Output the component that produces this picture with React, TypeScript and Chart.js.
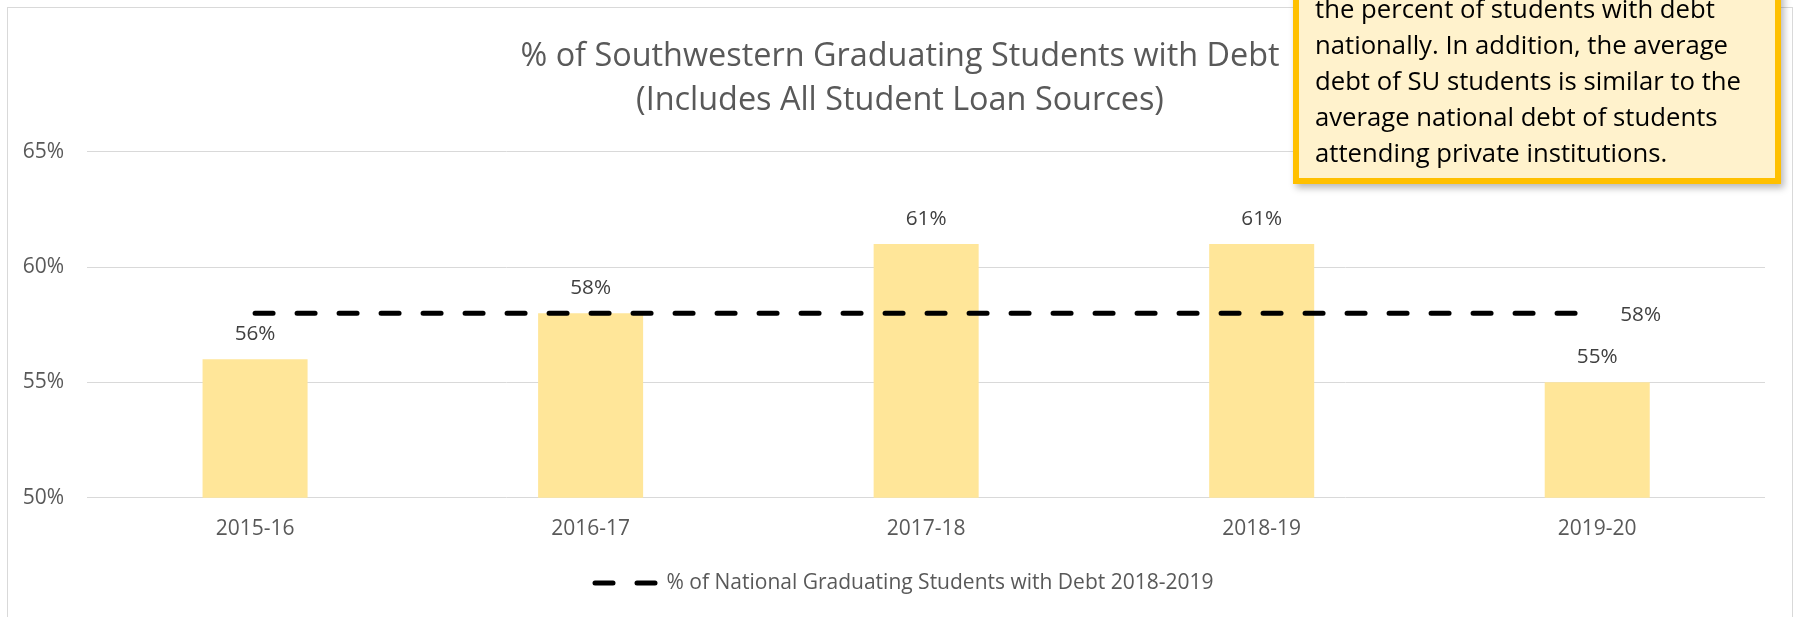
import React, { useEffect, useRef } from "react";
import { Chart, registerables } from "chart.js";

Chart.register(...registerables);

// ---- data ----
const categories = ["2015-16", "2016-17", "2017-18", "2018-19", "2019-20"];
const suDebtPct = [56, 58, 61, 61, 55];
const nationalDebtPct = [58, 58, 58, 58, 58];
const yTickValues = [50, 55, 60, 65];
const titleLines = [
  "% of Southwestern Graduating Students with Debt",
  "(Includes All Student Loan Sources)",
];
const suLabel = "% of Southwestern Graduating Students with Debt";
const nationalLabel = "% of National Graduating Students with Debt 2018-2019";
const noteLines = [
  "the percent of students with debt",
  "nationally. In addition, the average",
  "debt of SU students is similar to the",
  "average national debt of students",
  "attending private institutions.",
];

const FONT = '"Open Sans", "Noto Sans", sans-serif';
const CANVAS_W = 1784;
const CANVAS_H = 640;

const valueLabelPlugin = {
  id: "valueLabels",
  afterDatasetsDraw(chart: any) {
    const ctx = chart.ctx;
    ctx.save();
    ctx.font = `20.7px ${FONT}`;
    ctx.textBaseline = "middle";
    // bar labels
    const barMeta = chart.getDatasetMeta(0);
    ctx.fillStyle = "#404040";
    ctx.textAlign = "center";
    barMeta.data.forEach((el: any, i: number) => {
      const v = chart.data.datasets[0].data[i];
      ctx.fillText(`${v}%`, el.x, el.y - 25);
    });
    // line label on last point
    const lineMeta = chart.getDatasetMeta(1);
    const last = lineMeta.data.length - 1;
    const pt = lineMeta.data[last];
    const lv = chart.data.datasets[1].data[last];
    ctx.textAlign = "left";
    ctx.fillText(`${lv}%`, pt.x + 23, pt.y + 1.5);
    ctx.restore();
  },
};

const legendPlugin = {
  id: "dashLegend",
  afterDraw(chart: any) {
    const ctx = chart.ctx;
    const ds = chart.data.datasets[1];
    ctx.save();
    ctx.font = `21px ${FONT}`;
    const tw = ctx.measureText(ds.label).width;
    const cap = 2.5;
    const sample = 61;
    const gap = 10.5;
    const total = cap + sample + gap + tw;
    const startX = chart.width / 2 + 3 - total / 2;
    const y = 575;
    ctx.beginPath();
    ctx.setLineDash(ds.borderDash);
    ctx.lineCap = "round";
    ctx.lineWidth = ds.borderWidth;
    ctx.strokeStyle = ds.borderColor;
    ctx.moveTo(startX + cap, y);
    ctx.lineTo(startX + cap + sample, y);
    ctx.stroke();
    ctx.setLineDash([]);
    ctx.fillStyle = "#595959";
    ctx.textAlign = "left";
    ctx.textBaseline = "middle";
    ctx.fillText(ds.label, startX + cap + sample + gap, y);
    ctx.restore();
  },
};

export default function App() {
  const ref = useRef<HTMLCanvasElement>(null);

  useEffect(() => {
    if (!ref.current) return;
    const chart = new Chart(ref.current, {
      type: "bar",
      data: {
        labels: categories,
        datasets: [
          {
            type: "bar",
            label: suLabel,
            data: suDebtPct,
            backgroundColor: "#FFE699",
            borderWidth: 0,
            barPercentage: 1,
            categoryPercentage: 0.313,
            order: 2,
          },
          {
            type: "line",
            label: nationalLabel,
            data: nationalDebtPct,
            borderColor: "#000000",
            borderWidth: 5,
            borderDash: [18, 24],
            borderCapStyle: "round",
            pointRadius: 0,
            pointHoverRadius: 0,
            fill: false,
            tension: 0,
            order: 1,
          },
        ],
      },
      options: {
        responsive: false,
        animation: false,
        devicePixelRatio: 1,
        layout: { padding: { left: 0, right: 0, top: 0, bottom: 90.3 } },
        plugins: {
          legend: { display: false },
          tooltip: { enabled: false },
          title: {
            display: true,
            text: titleLines,
            color: "#595959",
            font: { family: FONT, size: 32.4, weight: "normal", lineHeight: 1.356 },
            padding: { top: 27.1, bottom: 28.7 },
          },
        },
        scales: {
          x: {
            grid: { display: false, drawTicks: false },
            border: { display: false },
            ticks: {
              color: "#595959",
              font: { family: FONT, size: 21 },
              padding: 18.5,
            },
            afterFit: (axis: any) => {
              axis.height = 60;
            },
          },
          y: {
            min: yTickValues[0],
            max: yTickValues[yTickValues.length - 1],
            afterBuildTicks: (axis: any) => {
              axis.ticks = yTickValues.map((v) => ({ value: v }));
            },
            grid: { color: "#d9d9d9", lineWidth: 1, drawTicks: false },
            border: { display: false },
            ticks: {
              color: "#595959",
              font: { family: FONT, size: 21 },
              padding: 23.3,
              callback: (v: any) => `${v}%`,
            },
            afterFit: (axis: any) => {
              axis.width = 79.3;
            },
          },
          yRightSpacer: {
            type: "linear",
            position: "right",
            display: true,
            min: yTickValues[0],
            max: yTickValues[yTickValues.length - 1],
            grid: { display: false, drawOnChartArea: false, drawTicks: false },
            border: { display: false },
            ticks: { display: false },
            afterFit: (axis: any) => {
              axis.width = 27;
            },
          },
        },
      },
      plugins: [valueLabelPlugin, legendPlugin],
    } as any);
    return () => chart.destroy();
  }, []);

  return (
    <div
      style={{
        position: "fixed",
        left: 0,
        top: 0,
        width: 1794,
        height: 617,
        overflow: "hidden",
        background: "#ffffff",
      }}
    >
      <div
        style={{
          position: "absolute",
          left: 7,
          top: 7,
          width: 1786,
          height: CANVAS_H + 2,
          border: "1px solid #d9d9d9",
          boxSizing: "border-box",
        }}
      >
        <canvas
          ref={ref}
          width={CANVAS_W}
          height={CANVAS_H}
          style={{ display: "block", width: CANVAS_W, height: CANVAS_H }}
        />
      </div>
      <div
        style={{
          position: "absolute",
          left: 1293,
          top: -19.5,
          width: 488,
          boxSizing: "border-box",
          border: "6px solid #FFC000",
          background: "#FFF2CC",
          padding: "4px 8px 7.8px 16px",
          boxShadow: "3px 4px 7px rgba(0,0,0,0.28)",
          fontFamily: FONT,
          fontSize: 25.7,
          lineHeight: "36px",
          color: "#000000",
          whiteSpace: "nowrap",
        }}
      >
        {noteLines.map((l, i) => (
          <div key={i}>{l}</div>
        ))}
      </div>
    </div>
  );
}
